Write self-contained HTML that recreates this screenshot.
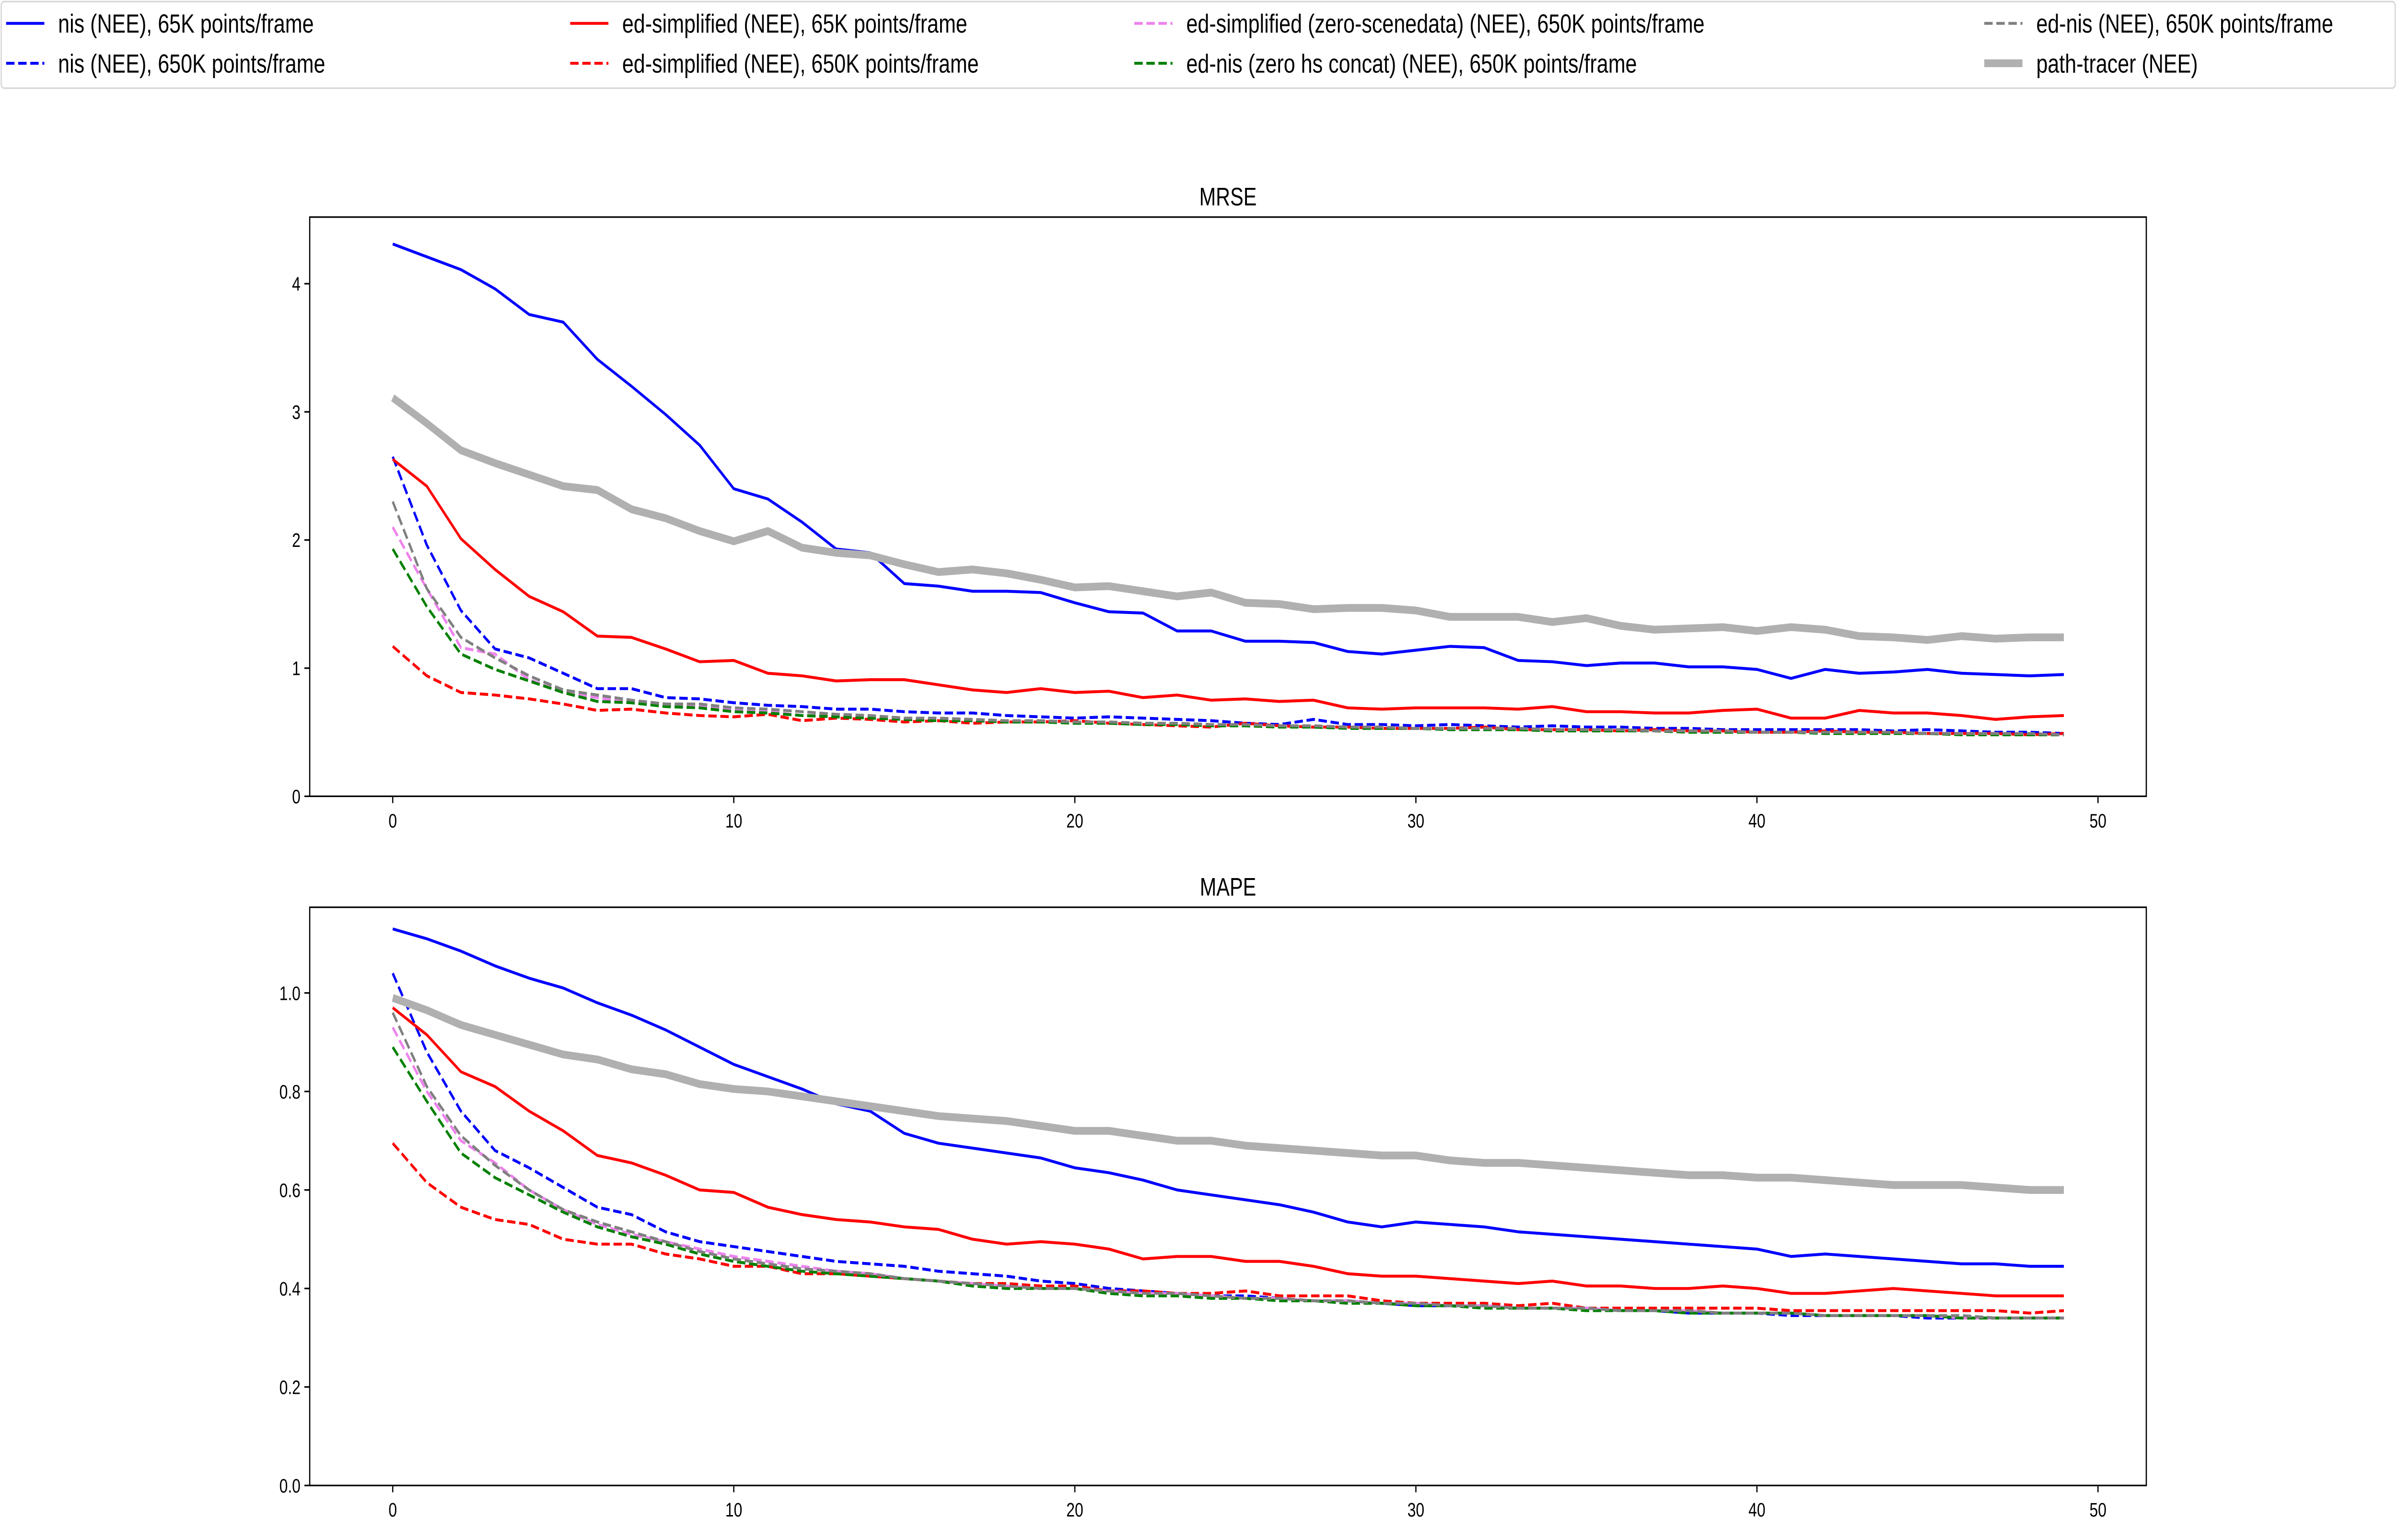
<!DOCTYPE html>
<html><head><meta charset="utf-8"><style>
html,body{margin:0;padding:0;background:#fff;overflow:hidden;width:100vw;height:100vh;}
svg{display:block;font-family:"Liberation Sans","DejaVu Sans",sans-serif;width:100vw;height:100vh;}
</style></head><body>
<svg id="chart" viewBox="0 0 1568 791" preserveAspectRatio="none" xmlns="http://www.w3.org/2000/svg">
<rect x="0" y="0" width="1568" height="791" fill="#fff"/>
<g id="legend"></g>
<g id="p1"></g>
<g id="p2"></g>
</svg>
<script>
const frames = Array.from({length:50},(_,i)=>i);
const xTicks = [0,10,20,30,40,50];
const mrseTicks = [0,1,2,3,4];
const mapeTicks = [0.0,0.2,0.4,0.6,0.8,1.0];
const mrseNis65 = [4.31,4.21,4.11,3.96,3.76,3.70,3.41,3.20,2.98,2.74,2.40,2.32,2.14,1.93,1.90,1.66,1.64,1.60,1.60,1.59,1.51,1.44,1.43,1.29,1.29,1.21,1.21,1.20,1.13,1.11,1.14,1.17,1.16,1.06,1.05,1.02,1.04,1.04,1.01,1.01,0.99,0.92,0.99,0.96,0.97,0.99,0.96,0.95,0.94,0.95];
const mrseNis650 = [2.65,1.96,1.45,1.15,1.08,0.96,0.84,0.84,0.77,0.76,0.73,0.71,0.70,0.68,0.68,0.66,0.65,0.65,0.63,0.62,0.61,0.62,0.61,0.60,0.59,0.57,0.56,0.60,0.56,0.56,0.55,0.56,0.55,0.54,0.55,0.54,0.54,0.53,0.53,0.52,0.52,0.52,0.52,0.52,0.51,0.52,0.51,0.50,0.50,0.49];
const mrseEd65 = [2.63,2.42,2.01,1.77,1.56,1.44,1.25,1.24,1.15,1.05,1.06,0.96,0.94,0.90,0.91,0.91,0.87,0.83,0.81,0.84,0.81,0.82,0.77,0.79,0.75,0.76,0.74,0.75,0.69,0.68,0.69,0.69,0.69,0.68,0.70,0.66,0.66,0.65,0.65,0.67,0.68,0.61,0.61,0.67,0.65,0.65,0.63,0.60,0.62,0.63];
const mrseEd650 = [1.17,0.94,0.81,0.79,0.76,0.72,0.67,0.68,0.65,0.63,0.62,0.64,0.59,0.61,0.60,0.58,0.59,0.57,0.58,0.58,0.59,0.57,0.56,0.55,0.54,0.57,0.55,0.54,0.54,0.53,0.53,0.53,0.54,0.52,0.52,0.52,0.51,0.52,0.51,0.51,0.50,0.50,0.51,0.50,0.50,0.49,0.49,0.49,0.48,0.49];
const mrseZero = [2.10,1.62,1.16,1.11,0.91,0.81,0.77,0.73,0.72,0.70,0.67,0.66,0.63,0.63,0.62,0.60,0.60,0.59,0.58,0.58,0.58,0.57,0.56,0.56,0.55,0.55,0.54,0.54,0.53,0.53,0.53,0.52,0.52,0.52,0.51,0.51,0.51,0.51,0.50,0.50,0.50,0.50,0.49,0.49,0.49,0.49,0.49,0.49,0.48,0.48];
const mrseConcat = [1.93,1.48,1.11,0.99,0.90,0.81,0.74,0.73,0.70,0.69,0.66,0.65,0.63,0.62,0.61,0.60,0.59,0.59,0.58,0.58,0.57,0.57,0.56,0.56,0.55,0.55,0.54,0.54,0.53,0.53,0.53,0.52,0.52,0.52,0.51,0.51,0.51,0.51,0.50,0.50,0.50,0.50,0.49,0.49,0.49,0.49,0.48,0.48,0.48,0.48];
const mrseEdNis = [2.30,1.62,1.24,1.08,0.94,0.83,0.79,0.75,0.72,0.72,0.69,0.68,0.66,0.64,0.63,0.61,0.61,0.60,0.59,0.59,0.58,0.58,0.57,0.57,0.56,0.56,0.55,0.55,0.54,0.54,0.53,0.53,0.53,0.53,0.52,0.52,0.52,0.51,0.51,0.51,0.50,0.50,0.50,0.50,0.50,0.49,0.49,0.49,0.49,0.48];
const mrsePT = [3.11,2.91,2.70,2.60,2.51,2.42,2.39,2.24,2.17,2.07,1.99,2.07,1.94,1.90,1.88,1.81,1.75,1.77,1.74,1.69,1.63,1.64,1.60,1.56,1.59,1.51,1.50,1.46,1.47,1.47,1.45,1.40,1.40,1.40,1.36,1.39,1.33,1.30,1.31,1.32,1.29,1.32,1.30,1.25,1.24,1.22,1.25,1.23,1.24,1.24];
const mapeNis65 = [1.13,1.11,1.085,1.055,1.03,1.01,0.98,0.955,0.925,0.89,0.855,0.83,0.805,0.775,0.76,0.715,0.695,0.685,0.675,0.665,0.645,0.635,0.62,0.60,0.59,0.58,0.57,0.555,0.535,0.525,0.535,0.53,0.525,0.515,0.51,0.505,0.50,0.495,0.49,0.485,0.48,0.465,0.47,0.465,0.46,0.455,0.45,0.45,0.445,0.445];
const mapeNis650 = [1.04,0.88,0.76,0.68,0.645,0.605,0.565,0.55,0.515,0.495,0.485,0.475,0.465,0.455,0.45,0.445,0.435,0.43,0.425,0.415,0.41,0.40,0.395,0.39,0.385,0.385,0.38,0.375,0.375,0.37,0.365,0.365,0.365,0.36,0.36,0.36,0.355,0.355,0.35,0.35,0.35,0.345,0.345,0.345,0.345,0.34,0.34,0.34,0.34,0.34];
const mapeEd65 = [0.97,0.915,0.84,0.81,0.76,0.72,0.67,0.655,0.63,0.60,0.595,0.565,0.55,0.54,0.535,0.525,0.52,0.50,0.49,0.495,0.49,0.48,0.46,0.465,0.465,0.455,0.455,0.445,0.43,0.425,0.425,0.42,0.415,0.41,0.415,0.405,0.405,0.40,0.40,0.405,0.40,0.39,0.39,0.395,0.40,0.395,0.39,0.385,0.385,0.385];
const mapeEd650 = [0.695,0.615,0.565,0.54,0.53,0.50,0.49,0.49,0.47,0.46,0.445,0.445,0.43,0.43,0.425,0.42,0.415,0.41,0.41,0.405,0.405,0.395,0.395,0.39,0.39,0.395,0.385,0.385,0.385,0.375,0.37,0.37,0.37,0.365,0.37,0.36,0.36,0.36,0.36,0.36,0.36,0.355,0.355,0.355,0.355,0.355,0.355,0.355,0.35,0.355];
const mapeZero = [0.93,0.80,0.70,0.655,0.60,0.56,0.53,0.51,0.495,0.48,0.465,0.455,0.445,0.435,0.43,0.42,0.415,0.41,0.405,0.40,0.40,0.395,0.39,0.39,0.385,0.38,0.38,0.375,0.375,0.37,0.37,0.365,0.365,0.36,0.36,0.36,0.355,0.355,0.355,0.35,0.35,0.35,0.345,0.345,0.345,0.345,0.34,0.34,0.34,0.34];
const mapeConcat = [0.89,0.78,0.675,0.625,0.59,0.555,0.525,0.505,0.49,0.47,0.455,0.445,0.435,0.43,0.425,0.42,0.415,0.405,0.40,0.40,0.40,0.39,0.385,0.385,0.38,0.38,0.375,0.375,0.37,0.37,0.365,0.365,0.36,0.36,0.36,0.355,0.355,0.355,0.35,0.35,0.35,0.35,0.345,0.345,0.345,0.345,0.34,0.34,0.34,0.34];
const mapeEdNis = [0.96,0.81,0.71,0.65,0.60,0.56,0.535,0.515,0.495,0.475,0.46,0.45,0.44,0.435,0.43,0.42,0.415,0.41,0.405,0.40,0.40,0.395,0.39,0.39,0.385,0.38,0.38,0.375,0.375,0.37,0.37,0.365,0.365,0.36,0.36,0.36,0.355,0.355,0.355,0.35,0.35,0.35,0.345,0.345,0.345,0.345,0.345,0.34,0.34,0.34];
const mapePT = [0.99,0.965,0.935,0.915,0.895,0.875,0.865,0.845,0.835,0.815,0.805,0.80,0.79,0.78,0.77,0.76,0.75,0.745,0.74,0.73,0.72,0.72,0.71,0.70,0.70,0.69,0.685,0.68,0.675,0.67,0.67,0.66,0.655,0.655,0.65,0.645,0.64,0.635,0.63,0.63,0.625,0.625,0.62,0.615,0.61,0.61,0.61,0.605,0.60,0.60];
const seriesLabels = ["nis (NEE), 65K points/frame","nis (NEE), 650K points/frame","ed-simplified (NEE), 65K points/frame","ed-simplified (NEE), 650K points/frame","ed-simplified (zero-scenedata) (NEE), 650K points/frame","ed-nis (zero hs concat) (NEE), 650K points/frame","ed-nis (NEE), 650K points/frame","path-tracer (NEE)"];

const NS="http://www.w3.org/2000/svg";
const styles=[
 {c:"#0000ff",w:1.5,d:null,n:"nis-65k"},
 {c:"#0000ff",w:1.5,d:"5.5 2.4",n:"nis-650k"},
 {c:"#ff0000",w:1.5,d:null,n:"ed-simplified-65k"},
 {c:"#ff0000",w:1.5,d:"5.5 2.4",n:"ed-simplified-650k"},
 {c:"#ee82ee",w:1.5,d:"5.5 2.4",n:"ed-simplified-zero-scenedata"},
 {c:"#008000",w:1.5,d:"5.5 2.4",n:"ed-nis-zero-hs-concat"},
 {c:"#808080",w:1.5,d:"5.5 2.4",n:"ed-nis-650k"},
 {c:"#b0b0b0",w:4,d:null,n:"path-tracer"}];
function mk(tag,attrs,parent){const e=document.createElementNS(NS,tag);for(const k in attrs)e.setAttribute(k,attrs[k]);parent.appendChild(e);return e;}

function panel(g,top,bottom,ymax,yt,fmt,title,data,prefix){
  const L=202.6,R=1404;
  const xs=v=>256.9+v*22.31;
  const ys=v=>bottom-(v/ymax)*(bottom-top);
  const t=mk("text",{x:(L+R)/2,y:top-6,"font-size":13,"text-anchor":"middle",fill:"#000"},g);
  t.textContent=title;
  
  
  xTicks.forEach(v=>{
    const l=mk("line",{x1:xs(v),x2:xs(v),y1:bottom,y2:bottom+3.5,stroke:"#000","stroke-width":0.8},g);
    
    
    const tx=mk("text",{x:xs(v),y:bottom+16,"font-size":10,"text-anchor":"middle",fill:"#000"},g);
    tx.textContent=String(v);
    
    
  });
  yt.forEach(v=>{
    const l=mk("line",{x1:L-3.5,x2:L,y1:ys(v),y2:ys(v),stroke:"#000","stroke-width":0.8},g);
    
    
    const tx=mk("text",{x:L-6,y:ys(v)+3.6,"font-size":10,"text-anchor":"end",fill:"#000"},g);
    tx.textContent=fmt(v);
    
    
  });
  data.forEach((arr,i)=>{
    const s=styles[i];
    const pts=arr.map((v,j)=>xs(frames[j]).toFixed(2)+","+ys(v).toFixed(2)).join(" ");
    const p=mk("polyline",{points:pts,fill:"none",stroke:s.c,"stroke-width":s.w,"stroke-linejoin":"round"},g);
    if(s.d)p.setAttribute("stroke-dasharray",s.d);
    
    
  });
  const f=mk("rect",{x:L,y:top,width:R-L,height:bottom-top,fill:"none",stroke:"#000","stroke-width":0.8},g);
  
  
}
panel(document.getElementById("p1"),111.5,409,4.52,mrseTicks,v=>String(v),"MRSE",
 [mrseNis65,mrseNis650,mrseEd65,mrseEd650,mrseZero,mrseConcat,mrseEdNis,mrsePT],"mrse");
panel(document.getElementById("p2"),466,763,1.174,mapeTicks,v=>v.toFixed(1),"MAPE",
 [mapeNis65,mapeNis650,mapeEd65,mapeEd650,mapeZero,mapeConcat,mapeEdNis,mapePT],"mape");

const lg=document.getElementById("legend");
const box=mk("rect",{x:0.8,y:0.8,width:1566,height:44.5,rx:2,fill:"#fff",stroke:"#d6d6d6","stroke-width":0.8},lg);


const colX=[4,373,742,1298];
const rowY=[12,32.5];
const legPos=[[0,0],[0,1],[1,0],[1,1],[2,0],[2,1],[3,0],[3,1]];
seriesLabels.forEach((lab,i)=>{
  const [c,r]=legPos[i];const s=styles[i];
  const ge=mk("g",{},lg);
  
  
  const x0=colX[c];
  const ln=mk("line",{x1:x0,x2:x0+25,y1:rowY[r],y2:rowY[r],stroke:s.c,"stroke-width":s.w},ge);
  if(s.d)ln.setAttribute("stroke-dasharray","5.5 2.4");
  const t=mk("text",{x:x0+34,y:rowY[r]+4.8,"font-size":13.5,fill:"#000"},ge);
  t.textContent=lab;
});
</script>
</body></html>
